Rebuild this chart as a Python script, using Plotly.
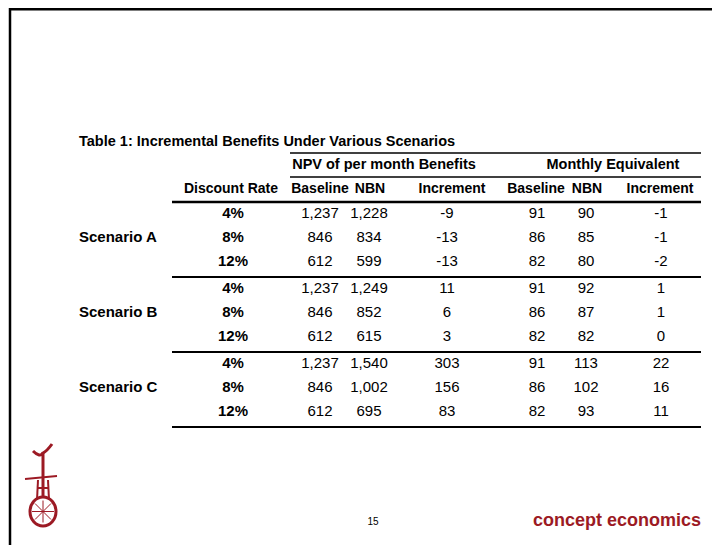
import plotly.graph_objects as go

# table content
title = "Table 1: Incremental Benefits Under Various Scenarios"
group_headers = ["NPV of per month Benefits", "Monthly Equivalent"]
col_headers = ["Discount Rate", "Baseline", "NBN", "Increment", "Baseline", "NBN", "Increment"]
scenarios = ["Scenario A", "Scenario B", "Scenario C"]
rates = ["4%", "8%", "12%", "4%", "8%", "12%", "4%", "8%", "12%"]
npv_baseline = [1237, 846, 612, 1237, 846, 612, 1237, 846, 612]
npv_nbn = [1228, 834, 599, 1249, 852, 615, 1540, 1002, 695]
npv_increment = [-9, -13, -13, 11, 6, 3, 303, 156, 83]
mon_baseline = [91, 86, 82, 91, 86, 82, 91, 86, 82]
mon_nbn = [90, 85, 80, 92, 87, 82, 113, 102, 93]
mon_increment = [-1, -1, -2, 1, 1, 0, 22, 16, 11]
page_no = "15"
brand = "concept economics"

# the page body has an 8px margin, so the figure starts at (8, 8)
W, H = 720, 545
OFF = 8
FONT = "Liberation Sans, Arial"
RED = "#9c1a24"
FS = 15

# layout (pixels of the slide)
col_x = [233, 320, 369, 447, 537, 586, 661]
hdr_x = [231, 320, 370, 452, 536, 587, 660]
row0, pitch, gap = 214, 24, 3
row_y = [row0 + i * pitch + (i // 3) * gap for i in range(9)]
rule_x0, rule_x1 = 172, 701

fig = go.Figure()


def fmt(v):
    return f"{v:,}"


def text_col(x, ys, texts, bold=False, size=FS, pos="middle center", color="black"):
    fig.add_trace(
        go.Scatter(
            x=[x] * len(ys),
            y=ys,
            text=[f"<b>{t}</b>" if bold else t for t in texts],
            mode="text",
            textposition=pos,
            textfont=dict(family=FONT, size=size, color=color),
            hoverinfo="skip",
            showlegend=False,
        )
    )


# data columns
text_col(col_x[0], row_y, rates, bold=True)
columns = [npv_baseline, npv_nbn, npv_increment, mon_baseline, mon_nbn, mon_increment]
for cx, vals in zip(col_x[1:], columns):
    text_col(cx, row_y, [fmt(v) for v in vals])

# scenario labels on the middle row of each group
text_col(79, [row_y[1], row_y[4], row_y[7]], scenarios, bold=True, pos="middle right")

# column headers
hdr_y = 189
for cx, h in zip(hdr_x, col_headers):
    text_col(cx, [hdr_y], [h], bold=True, size=14)

# group headers
text_col(384, [165], [group_headers[0]], bold=True, size=14.5)
text_col(613, [165], [group_headers[1]], bold=True, size=14.5)

# title
text_col(79, [142], [title], bold=True, size=14.5, pos="middle right")

# footer
text_col(373, [522], [page_no], size=10)
text_col(701, [521], [brand], bold=True, size=18, pos="middle left", color=RED)

shapes = []
# rules
for y, x0, w in [(153, 290, 1.5), (177, 290, 1.5), (202, rule_x0, 2.5),
                 (277, rule_x0, 2), (352, rule_x0, 2), (427, rule_x0, 2)]:
    shapes.append(dict(type="line", xref="x", yref="y", x0=x0, x1=rule_x1, y0=y, y1=y,
                       line=dict(color="black", width=w)))

# slide border
shapes.append(dict(type="line", xref="x", yref="y", x0=9, x1=W, y0=9.3, y1=9.3,
                   line=dict(color="black", width=2.5)))
shapes.append(dict(type="line", xref="x", yref="y", x0=10, x1=10, y0=8, y1=H,
                   line=dict(color="black", width=2.5)))

# logo: small unicycle figure
logo = dict(color=RED, width=2)
shapes += [
    dict(type="circle", xref="x", yref="y", x0=30, x1=56, y0=497, y1=526, line=dict(color=RED, width=3)),
    dict(type="line", xref="x", yref="y", x0=43, x1=43, y0=452, y1=497, line=dict(color=RED, width=3)),
    dict(type="line", xref="x", yref="y", x0=25, x1=57, y0=479, y1=476, line=logo),
    dict(type="line", xref="x", yref="y", x0=37, x1=49, y0=488, y1=488, line=logo),
    dict(type="line", xref="x", yref="y", x0=38, x1=37, y0=480, y1=500, line=logo),
    dict(type="line", xref="x", yref="y", x0=48, x1=49, y0=480, y1=500, line=logo),
    dict(type="path", xref="x", yref="y", path="M 33 451 Q 40 458 43 453 Q 47 451 52 444",
         line=dict(color=RED, width=3)),
]
for dx, dy in [(0, -11), (0, 11), (-11, 0), (11, 0), (-8, -8), (8, 8), (-8, 8), (8, -8)]:
    shapes.append(dict(type="line", xref="x", yref="y", x0=43, y0=511.5, x1=43 + dx, y1=511.5 + dy,
                       line=dict(color=RED, width=1)))

fig.update_layout(
    width=W - OFF,
    height=H - OFF,
    margin=dict(l=0, r=0, t=0, b=0),
    paper_bgcolor="white",
    plot_bgcolor="white",
    xaxis=dict(range=[OFF, W], visible=False, fixedrange=True),
    yaxis=dict(range=[H, OFF], visible=False, fixedrange=True),
    shapes=shapes,
    showlegend=False,
)

fig.write_html("out.html")
